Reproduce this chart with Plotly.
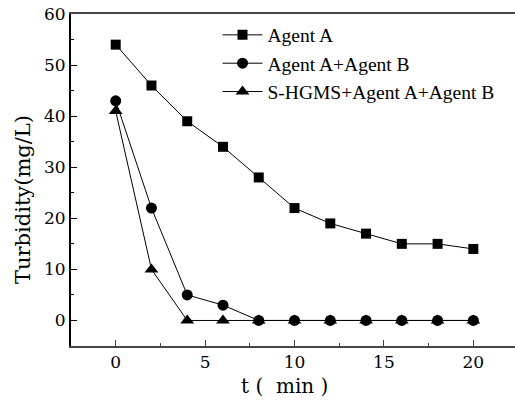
import plotly.graph_objects as go

t = [0, 2, 4, 6, 8, 10, 12, 14, 16, 18, 20]
agent_a = [54, 46, 39, 34, 28, 22, 19, 17, 15, 15, 14]
agent_ab = [43, 22, 5, 3, 0, 0, 0, 0, 0, 0, 0]
shgms_ab = [41, 10, 0, 0, 0, 0, 0, 0, 0, 0, 0]
names = ["Agent A", "Agent A+Agent B", "S-HGMS+Agent A+Agent B"]
x_title = "t\u00a0(\u00a0 min\u00a0)"
y_title = "Turbidity(mg/L)"

fig = go.Figure()
fig.add_trace(go.Scatter(x=t, y=agent_a, name=names[0], mode="lines+markers",
                         line=dict(color="black", width=1),
                         marker=dict(symbol="square", size=10, color="black")))
fig.add_trace(go.Scatter(x=t, y=agent_ab, name=names[1], mode="lines+markers",
                         line=dict(color="black", width=1),
                         marker=dict(symbol="circle", size=11, color="black")))
fig.add_trace(go.Scatter(x=t, y=shgms_ab, name=names[2], mode="lines+markers",
                         line=dict(color="black", width=1),
                         marker=dict(symbol="triangle-up", size=12, color="black")))

legend_font = "Liberation Serif"
axis_font = "DejaVu Serif"
L, R, T, B = 71, 0, 14, 55
W, H = 515, 401
pw, ph = W - L - R, H - T - B
fig.update_layout(
    width=W, height=H,
    margin=dict(l=L, r=R, t=T, b=B),
    plot_bgcolor="white", paper_bgcolor="white",
    font=dict(family=axis_font, color="black", size=17),
    showlegend=True,
    legend=dict(x=0.33, y=0.995, xanchor="left", yanchor="top",
                bgcolor="rgba(0,0,0,0)", font=dict(family=legend_font, size=19.5),
                tracegroupgap=0, itemwidth=40),
)
fig.add_annotation(text=x_title, xref="paper", yref="paper",
                   x=(284 - L) / pw, y=(H - B - 386) / ph,
                   xanchor="center", yanchor="middle", showarrow=False,
                   font=dict(family=axis_font, size=20))
fig.add_annotation(text=y_title, xref="paper", yref="paper",
                   x=(23 - L) / pw, y=(H - B - 200) / ph, textangle=-90,
                   xanchor="center", yanchor="middle", showarrow=False,
                   font=dict(family=axis_font, size=21))
fig.update_xaxes(range=[-2.5, 22.33], tickvals=[0, 5, 10, 15, 20],
                 showline=True, linecolor="#444", linewidth=2, mirror=True,
                 ticks="inside", ticklen=6, tickcolor="#444",
                 minor=dict(ticks="inside", ticklen=3, dtick=2.5, tick0=0, tickcolor="#444"),
                 showgrid=False, zeroline=False,
                 tickfont=dict(size=17))
fig.update_yaxes(range=[-5, 60], tickvals=[0, 10, 20, 30, 40, 50, 60],
                 showline=True, linecolor="black", linewidth=2,
                 ticks="inside", ticklen=6, tickcolor="black",
                 minor=dict(ticks="inside", ticklen=3, dtick=5, tick0=0, tickcolor="black"),
                 showgrid=False, zeroline=False,
                 tickfont=dict(size=17))

fig.write_html("out.html")
